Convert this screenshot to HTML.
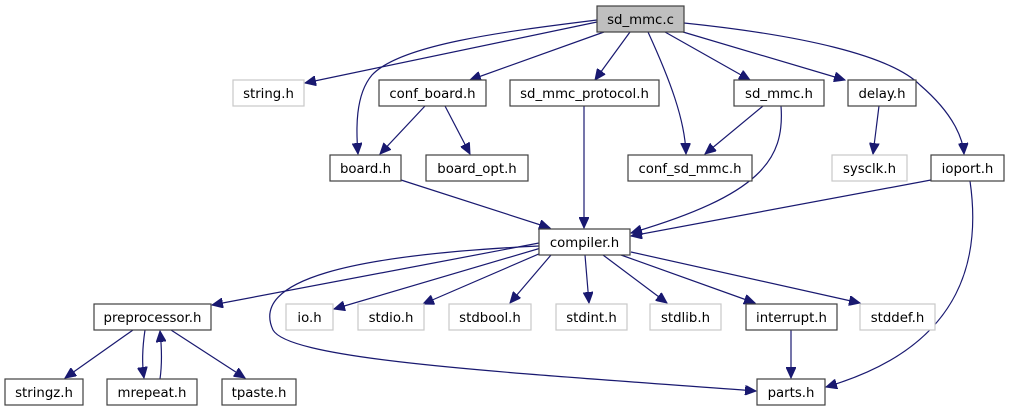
<!DOCTYPE html>
<html><head><meta charset="utf-8"><style>
html,body{margin:0;padding:0;background:#fff;}
svg{display:block;}
text{font-family:"DejaVu Sans","Liberation Sans",sans-serif;font-size:13.3px;fill:#000;text-anchor:middle;}
.b{fill:#fff;stroke:#404040;stroke-width:1.2;}
.g{fill:#fff;stroke:#c8c8c8;stroke-width:1.2;}
.e{fill:none;stroke:#191970;stroke-width:1.2;}
</style></head><body>
<svg width="1009" height="411" viewBox="0 0 1009 411" xmlns="http://www.w3.org/2000/svg">
<defs><marker id="a" markerWidth="12" markerHeight="10" refX="11" refY="5" orient="auto" markerUnits="userSpaceOnUse"><path d="M0,0 L11,5 L0,10 Z" fill="#191970" stroke="#191970"/></marker></defs>
<g class="e" marker-end="url(#a)">
<path d="M597,22 L305,83"/>
<path d="M597,20 C500,32 400,45 372,75 C355,95 356,130 358,154"/>
<path d="M604,32 L470,80"/>
<path d="M630,32 L595,80"/>
<path d="M648,32 C670,80 685,120 686,154"/>
<path d="M665,32 L750,80"/>
<path d="M683,32 L845,80"/>
<path d="M684,23 C800,35 890,55 920,85 C955,115 963,140 964,154"/>
<path d="M425,106 L380,154"/>
<path d="M445,106 L470,154"/>
<path d="M763,106 L705,154"/>
<path d="M781,106 C785,160 760,195 631,233"/>
<path d="M584,106 L584,228"/>
<path d="M879,106 L873,154"/>
<path d="M401,180 L550,228"/>
<path d="M931,180 L631,236"/>
<path d="M970,181 C980,250 970,345 826,387"/>
<path d="M539,243 L212,305"/>
<path d="M541,248 L334,309"/>
<path d="M548,250 L423,304"/>
<path d="M551,255 L510,303"/>
<path d="M585,255 L589,303"/>
<path d="M603,255 L667,303"/>
<path d="M621,255 L755,303"/>
<path d="M631,252 L860,303"/>
<path d="M539,246 C350,255 250,280 273,330 C290,360 500,372 756,391"/>
<path d="M133,330 L65,378"/>
<path d="M145,330 C142,350 142,365 144,378"/>
<path d="M160,379 C162,365 162,350 160,331"/>
<path d="M171,330 L245,378"/>
<path d="M791,330 L791,378"/>
</g>
<rect x="597" y="6" width="87" height="26" fill="#bfbfbf" stroke="#404040" stroke-width="1.2"/><text x="640.5" y="24">sd_mmc.c</text>
<rect class="g" x="233" y="80" width="71" height="26"/><text x="268.5" y="98">string.h</text>
<rect class="b" x="379" y="80" width="107" height="26"/><text x="432.5" y="98">conf_board.h</text>
<rect class="b" x="510" y="80" width="149" height="26"/><text x="584.5" y="98">sd_mmc_protocol.h</text>
<rect class="b" x="734" y="80" width="90" height="26"/><text x="779" y="98">sd_mmc.h</text>
<rect class="b" x="848" y="80" width="68" height="26"/><text x="882" y="98">delay.h</text>
<rect class="b" x="330" y="155" width="71" height="26"/><text x="365.5" y="173">board.h</text>
<rect class="b" x="426" y="155" width="102" height="26"/><text x="477" y="173">board_opt.h</text>
<rect class="b" x="628" y="155" width="124" height="26"/><text x="690" y="173">conf_sd_mmc.h</text>
<rect class="g" x="832" y="155" width="75" height="26"/><text x="869.5" y="173">sysclk.h</text>
<rect class="b" x="931" y="155" width="73" height="26"/><text x="967.5" y="173">ioport.h</text>
<rect class="b" x="539" y="229" width="91" height="26"/><text x="584.5" y="247">compiler.h</text>
<rect class="b" x="94" y="304" width="117" height="26"/><text x="152.5" y="322">preprocessor.h</text>
<rect class="g" x="286" y="304" width="47" height="26"/><text x="309.5" y="322">io.h</text>
<rect class="g" x="358" y="304" width="66" height="26"/><text x="391" y="322">stdio.h</text>
<rect class="g" x="449" y="304" width="82" height="26"/><text x="490" y="322">stdbool.h</text>
<rect class="g" x="556" y="304" width="71" height="26"/><text x="591.5" y="322">stdint.h</text>
<rect class="g" x="650" y="304" width="71" height="26"/><text x="685.5" y="322">stdlib.h</text>
<rect class="b" x="746" y="304" width="91" height="26"/><text x="791.5" y="322">interrupt.h</text>
<rect class="g" x="860" y="304" width="75" height="26"/><text x="897.5" y="322">stddef.h</text>
<rect class="b" x="5" y="379" width="78" height="26"/><text x="44" y="397">stringz.h</text>
<rect class="b" x="107" y="379" width="90" height="26"/><text x="152" y="397">mrepeat.h</text>
<rect class="b" x="222" y="379" width="74" height="26"/><text x="259" y="397">tpaste.h</text>
<rect class="b" x="757" y="379" width="68" height="26"/><text x="791" y="397">parts.h</text>
</svg>
</body></html>
